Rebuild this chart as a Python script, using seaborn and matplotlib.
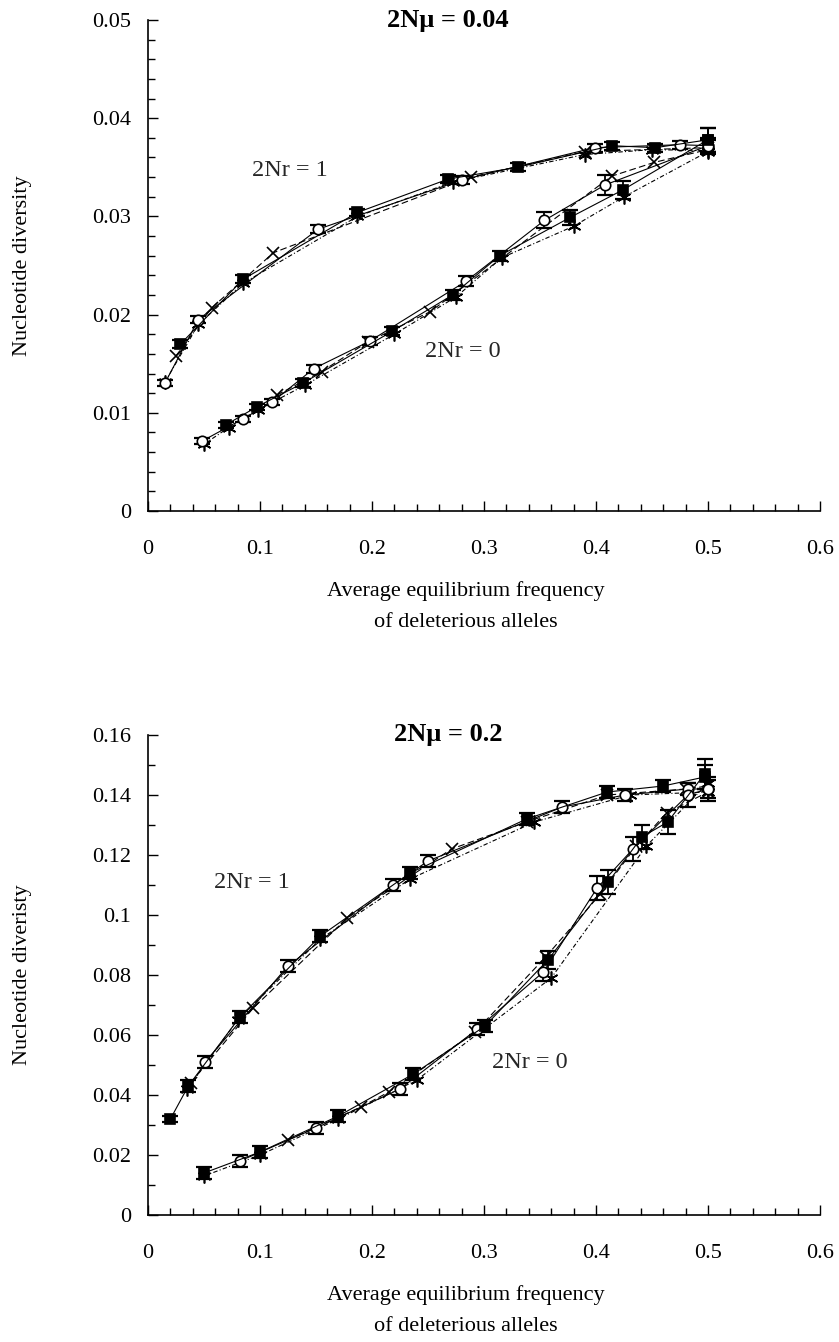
import matplotlib
matplotlib.use("Agg")
import matplotlib.pyplot as plt
import seaborn as sns
import numpy as np
from matplotlib.ticker import MultipleLocator, FuncFormatter

sns.set_theme(style="white")
plt.rcParams['font.family'] = ['Liberation Serif', 'DejaVu Serif']

# ---------------- data: panel A (2Nmu = 0.04) ----------------
# 2Nr = 1
T1_SQ_X = [0.029, 0.085, 0.187, 0.268, 0.330, 0.414, 0.453, 0.500]
T1_SQ_Y = [0.0170, 0.0236, 0.0304, 0.0338, 0.0350, 0.0372, 0.0370, 0.0378]
T1_SQ_E = [0.0004, 0.0004, 0.0004, 0.0004, 0.0004, 0.0004, 0.0004, 0.0012]
T1_CI_X = [0.015, 0.045, 0.152, 0.280, 0.399, 0.475, 0.500]
T1_CI_Y = [0.0130, 0.0195, 0.0287, 0.0337, 0.0370, 0.0373, 0.0372]
T1_CI_E = [0.0003, 0.0004, 0.0004, 0.0004, 0.0004, 0.0004, 0.0006]
T1_X_X = [0.025, 0.057, 0.112, 0.288, 0.390, 0.500]
T1_X_Y = [0.0158, 0.0207, 0.0263, 0.0340, 0.0366, 0.0370]
T1_AS_X = [0.015, 0.045, 0.085, 0.187, 0.272, 0.390, 0.450, 0.500]
T1_AS_Y = [0.0131, 0.0190, 0.0232, 0.0300, 0.0335, 0.0363, 0.0368, 0.0367]
# 2Nr = 0
T0_SQ_X = [0.070, 0.097, 0.138, 0.218, 0.272, 0.314, 0.377, 0.424, 0.500]
T0_SQ_Y = [0.0088, 0.0106, 0.0130, 0.0183, 0.0220, 0.0260, 0.0299, 0.0327, 0.0378]
T0_SQ_E = [0.0003, 0.0003, 0.0004, 0.0004, 0.0005, 0.0005, 0.0008, 0.0009, 0.0012]
T0_CI_X = [0.048, 0.085, 0.111, 0.148, 0.198, 0.284, 0.354, 0.408, 0.500]
T0_CI_Y = [0.0071, 0.0094, 0.0111, 0.0145, 0.0173, 0.0234, 0.0296, 0.0332, 0.0372]
T0_CI_E = [0.0003, 0.0003, 0.0003, 0.0004, 0.0004, 0.0005, 0.0008, 0.0010, 0.0008]
T0_X_X = [0.115, 0.155, 0.196, 0.252, 0.414, 0.452, 0.500]
T0_X_Y = [0.0118, 0.0142, 0.0172, 0.0203, 0.0341, 0.0355, 0.0368]
T0_AS_X = [0.050, 0.072, 0.098, 0.140, 0.220, 0.275, 0.316, 0.380, 0.425, 0.500]
T0_AS_Y = [0.0068, 0.0085, 0.0103, 0.0128, 0.0180, 0.0218, 0.0258, 0.0290, 0.0320, 0.0366]

# ---------------- data: panel B (2Nmu = 0.2) ----------------
# 2Nr = 1
B1_SQ_X = [0.020, 0.036, 0.082, 0.154, 0.234, 0.338, 0.410, 0.460, 0.497]
B1_SQ_Y = [0.032, 0.043, 0.066, 0.093, 0.114, 0.132, 0.141, 0.143, 0.146]
B1_SQ_E = [0.001, 0.002, 0.002, 0.002, 0.002, 0.002, 0.002, 0.002, 0.004]
B1_CI_X = [0.051, 0.125, 0.219, 0.250, 0.370, 0.426, 0.482, 0.500]
B1_CI_Y = [0.051, 0.083, 0.110, 0.118, 0.136, 0.140, 0.142, 0.142]
B1_CI_E = [0.002, 0.002, 0.002, 0.002, 0.002, 0.002, 0.002, 0.003]
B1_X_X = [0.038, 0.094, 0.178, 0.271, 0.338, 0.410, 0.480, 0.500]
B1_X_Y = [0.044, 0.069, 0.099, 0.122, 0.131, 0.140, 0.142, 0.143]
B1_AS_X = [0.035, 0.080, 0.154, 0.234, 0.345, 0.430, 0.500]
B1_AS_Y = [0.042, 0.065, 0.092, 0.112, 0.131, 0.140, 0.141]
# 2Nr = 0
B0_SQ_X = [0.050, 0.100, 0.170, 0.237, 0.301, 0.357, 0.411, 0.441, 0.464, 0.497]
B0_SQ_Y = [0.014, 0.021, 0.033, 0.047, 0.063, 0.085, 0.111, 0.126, 0.131, 0.147]
B0_SQ_E = [0.002, 0.002, 0.002, 0.002, 0.002, 0.003, 0.004, 0.004, 0.004, 0.005]
B0_CI_X = [0.082, 0.150, 0.225, 0.294, 0.353, 0.401, 0.433, 0.482, 0.500]
B0_CI_Y = [0.018, 0.029, 0.042, 0.062, 0.081, 0.109, 0.122, 0.140, 0.142]
B0_CI_E = [0.002, 0.002, 0.002, 0.002, 0.003, 0.004, 0.004, 0.004, 0.004]
B0_X_X = [0.125, 0.190, 0.215, 0.292, 0.355, 0.404, 0.436, 0.463, 0.500]
B0_X_Y = [0.025, 0.036, 0.041, 0.061, 0.086, 0.107, 0.123, 0.134, 0.141]
B0_AS_X = [0.050, 0.100, 0.170, 0.240, 0.360, 0.445, 0.500]
B0_AS_Y = [0.013, 0.020, 0.032, 0.045, 0.079, 0.123, 0.144]

TITLES = ["2Nμ = 0.04", "2Nμ = 0.2"]
YLABELS = ["Nucleotide diversity", "Nucleotide diveristy"]
XLABEL = "Average equilibrium frequency\nof deleterious alleles"
GROUP_LABELS = ["2Nr = 1", "2Nr = 0"]

ASTER = (6, 2, 0)


def draw_series(ax, xs, ys, kind, errs=None):
    styles = {
        "sq": dict(marker="s", ls="-", mfc="black", ms=7.5),
        "ci": dict(marker="o", ls="-", mfc="white", ms=7.5),
        "x": dict(marker="x", ls=(0, (6, 3)), mfc="black", ms=9),
        "as": dict(marker=ASTER, ls=(0, (4, 2, 1, 2)), mfc="black", ms=10),
    }
    st = styles[kind]
    sns.lineplot(x=xs, y=ys, ax=ax, sort=False, estimator=None, color="black",
                 linewidth=0.8, linestyle=st["ls"], marker=st["marker"],
                 markersize=st["ms"], markerfacecolor=st["mfc"],
                 markeredgecolor="black", markeredgewidth=1.2, zorder=3)
    if errs is not None:
        ax.errorbar(xs, ys, yerr=errs, fmt="none", ecolor="black",
                    elinewidth=1.3, capsize=6, capthick=1.6, zorder=2)


W, H = 839, 1342
fig = plt.figure(figsize=(W / 100, H / 100), dpi=100)
axA = fig.add_axes([148 / W, 1 - 511 / H, 672 / W, 491 / H])
axB = fig.add_axes([148 / W, 1 - 1215 / H, 672 / W, 480 / H])

# panel A
draw_series(axA, T1_AS_X, T1_AS_Y, "as")
draw_series(axA, T1_X_X, T1_X_Y, "x")
draw_series(axA, T1_CI_X, T1_CI_Y, "ci", T1_CI_E)
draw_series(axA, T1_SQ_X, T1_SQ_Y, "sq", T1_SQ_E)
draw_series(axA, T0_AS_X, T0_AS_Y, "as")
draw_series(axA, T0_X_X, T0_X_Y, "x")
draw_series(axA, T0_CI_X, T0_CI_Y, "ci", T0_CI_E)
draw_series(axA, T0_SQ_X, T0_SQ_Y, "sq", T0_SQ_E)

# panel B
draw_series(axB, B1_AS_X, B1_AS_Y, "as")
draw_series(axB, B1_X_X, B1_X_Y, "x")
draw_series(axB, B1_CI_X, B1_CI_Y, "ci", B1_CI_E)
draw_series(axB, B1_SQ_X, B1_SQ_Y, "sq", B1_SQ_E)
draw_series(axB, B0_AS_X, B0_AS_Y, "as")
draw_series(axB, B0_X_X, B0_X_Y, "x")
draw_series(axB, B0_CI_X, B0_CI_Y, "ci", B0_CI_E)
draw_series(axB, B0_SQ_X, B0_SQ_Y, "sq", B0_SQ_E)

fmt = FuncFormatter(lambda v, p: "0" if abs(v) < 1e-12 else f"{v:g}")

for ax, ymax, ymaj, ymin, title, ylab in [
        (axA, 0.05, 0.01, 0.002, TITLES[0], YLABELS[0]),
        (axB, 0.16, 0.02, 0.01, TITLES[1], YLABELS[1])]:
    ax.set_xlim(0, 0.6)
    ax.set_ylim(0, ymax)
    ax.xaxis.set_major_locator(MultipleLocator(0.1))
    ax.xaxis.set_minor_locator(MultipleLocator(0.02))
    ax.yaxis.set_major_locator(MultipleLocator(ymaj))
    ax.yaxis.set_minor_locator(MultipleLocator(ymin))
    ax.xaxis.set_major_formatter(fmt)
    ax.yaxis.set_major_formatter(fmt)
    ax.tick_params(which="major", direction="in", length=7, width=1,
                   colors="black", labelsize=16)
    ax.tick_params(which="minor", direction="in", length=5, width=1,
                   colors="black")
    ax.tick_params(axis="y", which="both", left=True, pad=12)
    ax.tick_params(axis="x", which="both", bottom=True, pad=21)
    for s in ["top", "right"]:
        ax.spines[s].set_visible(False)
    for s in ["left", "bottom"]:
        ax.spines[s].set_color("black")
        ax.spines[s].set_linewidth(1.2)
    ax.set_facecolor("white")
    ax.grid(False)
    ax.set_ylabel(ylab, fontsize=16, color="black")
    ax.yaxis.set_label_coords(-0.172, 0.5)
    ax.set_xlabel(XLABEL, fontsize=16, color="black", linespacing=1.85)
    ax.text(0.268, ymax, title, fontsize=19, fontweight="bold",
            ha="center", va="center", color="black")

axA.xaxis.set_label_coords(0.473, -0.142)
axB.xaxis.set_label_coords(0.473, -0.146)

axA.text(0.127, 0.0347, GROUP_LABELS[0], fontsize=17.5, ha="center", va="center")
axA.text(0.281, 0.0162, GROUP_LABELS[1], fontsize=17.5, ha="center", va="center")
axB.text(0.093, 0.111, GROUP_LABELS[0], fontsize=17.5, ha="center", va="center")
axB.text(0.341, 0.0507, GROUP_LABELS[1], fontsize=17.5, ha="center", va="center")

fig.patch.set_facecolor("white")
fig.savefig("out.png", dpi=100, facecolor="white")
